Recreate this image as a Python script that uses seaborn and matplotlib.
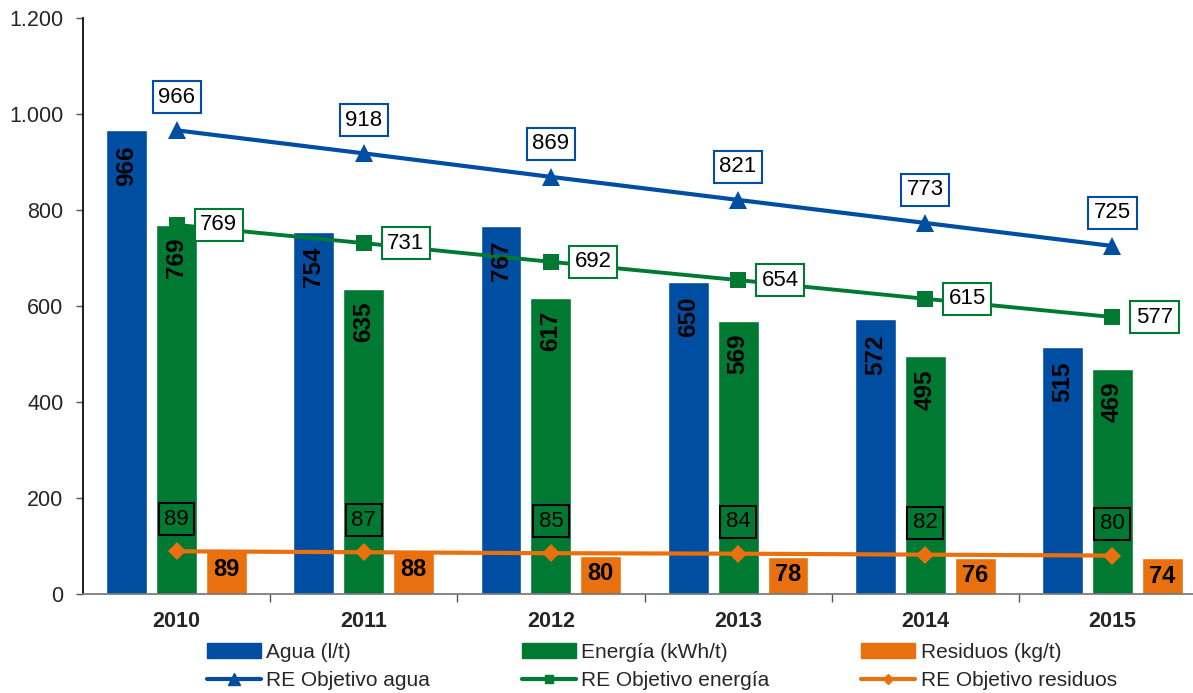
import numpy as np
import pandas as pd
import seaborn as sns
import matplotlib.pyplot as plt
from matplotlib.ticker import FuncFormatter, FixedLocator
from matplotlib.patches import Patch
from matplotlib.lines import Line2D

# data
years = ["2010", "2011", "2012", "2013", "2014", "2015"]
agua = [966, 754, 767, 650, 572, 515]
energia = [769, 635, 617, 569, 495, 469]
residuos = [89, 88, 80, 78, 76, 74]
obj_agua = [966, 918, 869, 821, 773, 725]
obj_energia = [769, 731, 692, 654, 615, 577]
obj_residuos = [89, 87, 85, 84, 82, 80]

series_names = ["Agua (l/t)", "Energía (kWh/t)", "Residuos (kg/t)"]
blue = "#004EA2"
green = "#007A33"
orange = "#E8700F"


def main():
    sns.set_theme(style="white")
    plt.rcParams["font.family"] = ["Liberation Sans", "DejaVu Sans"]

    df = pd.DataFrame({
        "year": years * 3,
        "value": agua + energia + residuos,
        "serie": [series_names[0]] * 6 + [series_names[1]] * 6 + [series_names[2]] * 6,
    })

    fig = plt.figure(figsize=(11.93, 6.93), dpi=100)
    ax = fig.add_axes([83 / 1193, 99 / 693, 1123 / 1193, 576 / 693])

    sns.barplot(data=df, x="year", y="value", hue="serie", order=years,
                hue_order=series_names, palette=[blue, green, orange],
                width=0.8, gap=0.18, saturation=1, errorbar=None, ax=ax,
                legend=False)

    x = np.arange(len(years))
    sns.lineplot(x=x, y=obj_agua, color=blue, lw=3, marker="^", ms=13,
                 markeredgewidth=0, ax=ax)
    sns.lineplot(x=x, y=obj_energia, color=green, lw=2.8, marker="s", ms=12,
                 markeredgewidth=0, ax=ax)
    sns.lineplot(x=x, y=obj_residuos, color=orange, lw=3, marker="D", ms=9,
                 markeredgewidth=0, ax=ax)

    # values inside the bars
    off = 0.8 / 3
    for i in range(len(years)):
        ax.annotate(str(agua[i]), (i - off, agua[i]), xytext=(0, -35),
                    textcoords="offset pixels", rotation=90, ha="center",
                    va="center", fontsize=17.5, fontweight="bold", color="black")
        ax.annotate(str(energia[i]), (i, energia[i]), xytext=(0, -33),
                    textcoords="offset pixels", rotation=90, ha="center",
                    va="center", fontsize=17.5, fontweight="bold", color="black")
        ax.annotate(str(residuos[i]), (i + off, residuos[i]), xytext=(0, -18),
                    textcoords="offset pixels", ha="center", va="center",
                    fontsize=17, fontweight="bold", color="black")

    # target labels
    for i in range(len(years)):
        ax.annotate(str(obj_agua[i]), (i, obj_agua[i]), xytext=(0, 33),
                    textcoords="offset pixels", ha="center", va="center",
                    fontsize=16, color="black",
                    bbox=dict(boxstyle="square,pad=0.25", fc="white", ec=blue, lw=1.5))
        ax.annotate(str(obj_energia[i]), (i, obj_energia[i]), xytext=(42, 0),
                    textcoords="offset pixels", ha="center", va="center",
                    fontsize=16, color="black",
                    bbox=dict(boxstyle="square,pad=0.25", fc="white", ec=green, lw=1.5))
        ax.annotate(str(obj_residuos[i]), (i, obj_residuos[i]), xytext=(0, 32),
                    textcoords="offset pixels", ha="center", va="center",
                    fontsize=16, color="black",
                    bbox=dict(boxstyle="square,pad=0.25", fc="none", ec="black", lw=1.5))

    ax.set_xlim(-0.5, len(years) - 0.5)
    ax.set_ylim(0, 1200)
    ax.set_yticks(range(0, 1201, 200))
    ax.yaxis.set_major_formatter(FuncFormatter(lambda v, p: f"{v:,.0f}".replace(",", ".")))
    ax.set_xlabel("")
    ax.set_ylabel("")

    ax.xaxis.set_minor_locator(FixedLocator(np.arange(0.5, len(years) - 0.5, 1)))
    ax.tick_params(axis="x", which="major", length=0, pad=12, labelsize=15.5)
    ax.tick_params(axis="x", which="minor", length=6, width=1, color="#555555",
                   direction="out", bottom=True)
    ax.tick_params(axis="y", length=5, width=1, color="#555555", direction="out",
                   left=True, pad=9, labelsize=15.5)
    for lbl in ax.get_xticklabels():
        lbl.set_fontweight("bold")

    sns.despine(ax=ax, top=True, right=True)
    ax.spines["left"].set_color("black")
    ax.spines["bottom"].set_color("#777777")

    # legend: bars in first row, lines in second
    handles = [
        Patch(color=blue), Line2D([], [], color=blue, lw=3, marker="^", ms=8),
        Patch(color=green), Line2D([], [], color=green, lw=3, marker="s", ms=6),
        Patch(color=orange), Line2D([], [], color=orange, lw=3, marker="D", ms=5),
    ]
    labels = ["Agua (l/t)", "RE Objetivo agua",
              "Energía (kWh/t)", "RE Objetivo energía",
              "Residuos (kg/t)", "RE Objetivo residuos"]
    fig.legend(handles, labels, ncol=3, loc="upper left",
               bbox_to_anchor=(207 / 1193, 1 - 643 / 693), frameon=False,
               fontsize=15, handlelength=2.6, handletextpad=0.25,
               columnspacing=4.4, labelspacing=0.45, borderpad=0,
               borderaxespad=0)

    fig.savefig("out.png", dpi=100)


if __name__ == "__main__":
    main()
